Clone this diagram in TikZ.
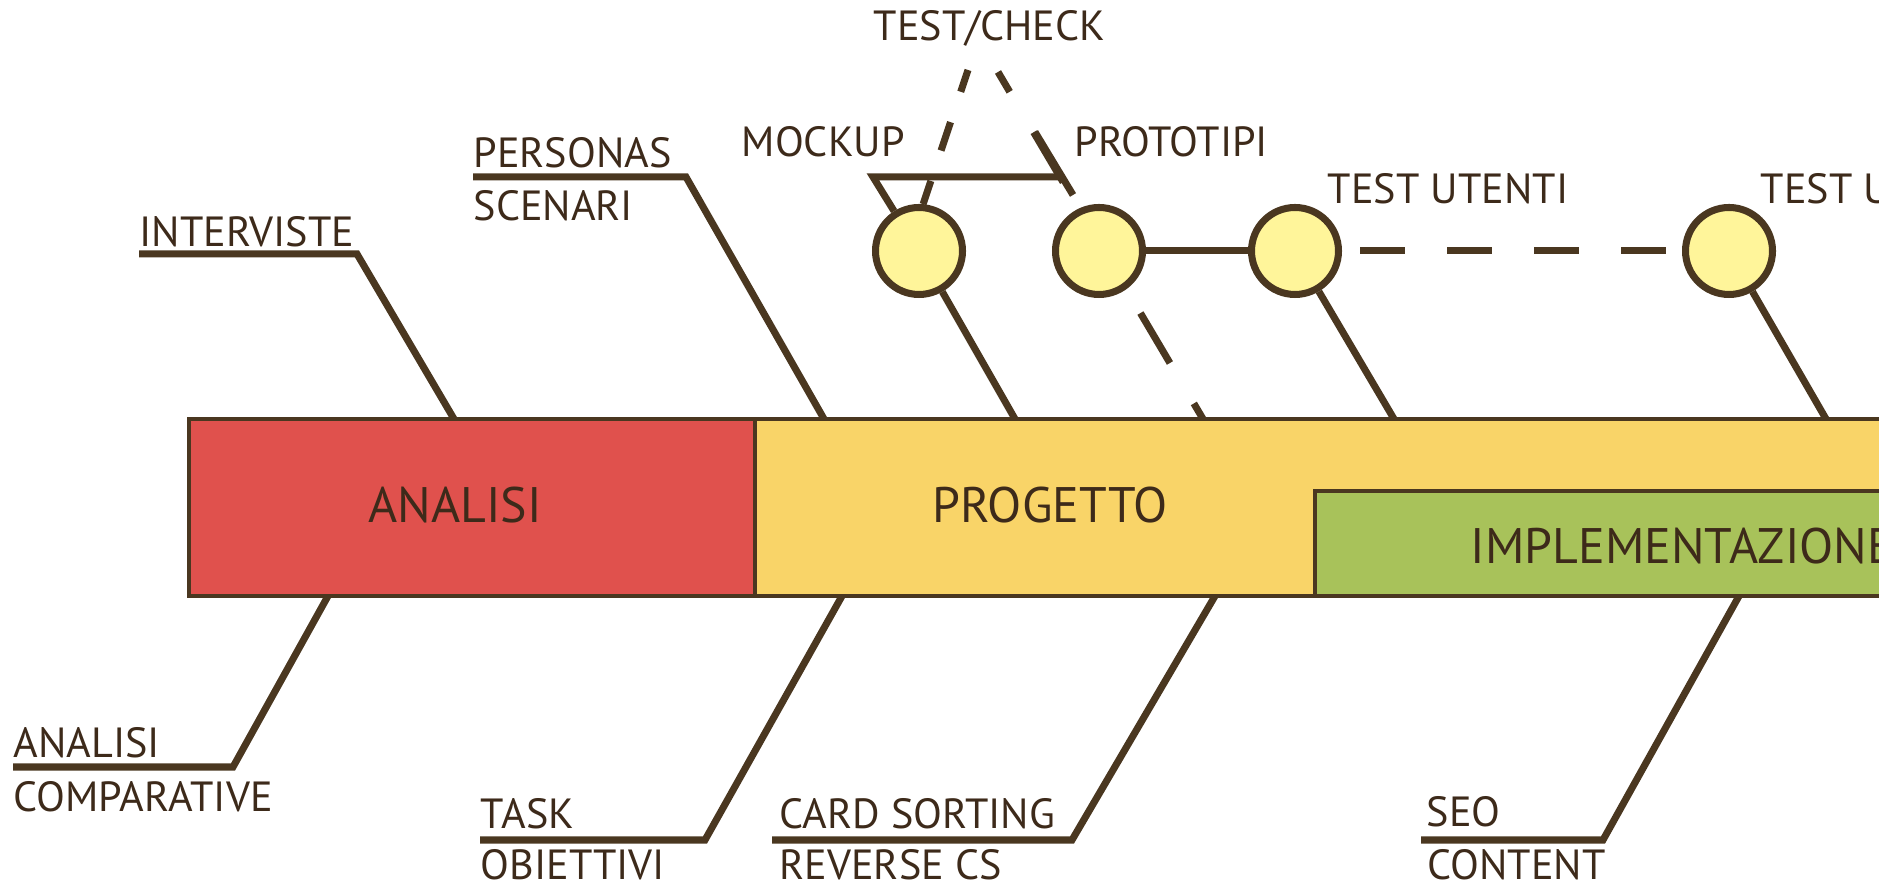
\documentclass[tikz,border=0pt]{standalone}
\usepackage{fontspec}
\setmainfont{PT Sans}
\usepackage{xcolor}
\definecolor{analisired}{HTML}{E0514D}
\definecolor{progettoyellow}{HTML}{F9D468}
\definecolor{implgreen}{HTML}{A8C25A}
\definecolor{stepyellow}{HTML}{FFF59A}
\definecolor{linebrown}{HTML}{4A3720}
\definecolor{textbrown}{HTML}{3D2A1A}
\usepackage{tikz}

\tikzset{
    phase/.style={draw=linebrown, line width=1pt},
    phasetext/.style={inner sep=0pt, anchor=base, text=textbrown, font=\fontsize{14.2}{17}\selectfont},
    lbl/.style={inner sep=0pt, anchor=base west, text=textbrown, font=\fontsize{12}{14}\selectfont},
    leader/.style={draw=linebrown, line width=2pt},
    milestone/.style={circle, draw=linebrown, fill=stepyellow, line width=2pt, minimum size=0.87cm, inner sep=0pt},
}

\begin{document}
\begin{tikzpicture}
                        \clip (0, 0) rectangle (18.79, 8.84);

                        % fasi
                        \draw[phase, fill=analisired] (1.89, 2.88) rectangle (7.55, 4.65);
                        \draw[phase, fill=progettoyellow] (7.55, 2.88) rectangle (19.5, 4.65);
                        \draw[phase, fill=implgreen] (13.15, 2.88) rectangle (19.5, 3.93);

                        \node (analisi) at (4.55, 3.61) [phasetext] {ANALISI};
                        \node (progetto) at (10.50, 3.61) [phasetext] {PROGETTO};
                        \node (implementazione) at (14.70, 3.20) [phasetext, anchor=base west] {IMPLEMENTAZIONE};

                        % punti sulla barra
                        \coordinate (binterviste) at (4.54, 4.65);
                        \coordinate (bpersonas) at (8.24, 4.65);
                        \coordinate (bmockup) at (10.15, 4.65);
                        \coordinate (bprototipi) at (12.03, 4.65);
                        \coordinate (butenti) at (13.94, 4.65);
                        \coordinate (butenti2) at (18.26, 4.65);
                        \coordinate (bcomparative) at (3.28, 2.88);
                        \coordinate (btask) at (8.42, 2.88);
                        \coordinate (bcard) at (12.15, 2.88);
                        \coordinate (bseo) at (17.39, 2.88);

                        % test/check
                        \coordinate (tleft) at (9.68, 8.14);
                        \coordinate (tright) at (9.98, 8.12);
                        \draw[leader, dash pattern=on 0.58cm off 0.47cm, dash phase=0.35cm] (tright) -- (bprototipi);

                        \node (c1) at (9.19, 6.33) [milestone] {};
                        \node (c2) at (10.99, 6.33) [milestone] {};
                        \node (c3) at (12.95, 6.33) [milestone] {};
                        \node (c4) at (17.29, 6.33) [milestone] {};

                        \draw[leader, dash pattern=on 0.30cm off 0.32cm, dash phase=0.07cm] (tleft) -- (c1.85);

                        \coordinate (kmockup) at (8.73, 7.07);
                        \coordinate (emockup) at (10.60, 7.07);
                        \coordinate (sprototipi) at (10.35, 7.52);
                        \coordinate (eprototipi) at (10.73, 6.89);
                        \draw[leader] (c1.122) -- (kmockup) -- (emockup);
                        \draw[leader] (sprototipi) -- (eprototipi);

                        \draw[leader] (c1) -- (bmockup);
                        \draw[leader] (c2) -- (c3);
                        \draw[leader, dash pattern=on 0.45cm off 0.42cm, dash phase=0.69cm] (c3) -- (c4);
                        \draw[leader] (c3) -- (butenti);
                        \draw[leader] (c4) -- (butenti2);

                        % etichette
                        \node (testcheck) at (8.73, 8.43) [lbl] {TEST/CHECK};
                        \node (mockup) at (7.41, 7.27) [lbl] {MOCKUP};
                        \node (prototipi) at (10.74, 7.27) [lbl] {PROTOTIPI};
                        \node (utenti) at (13.27, 6.80) [lbl] {TEST UTENTI};
                        \node (utenti2) at (17.60, 6.80) [lbl] {TEST UTENTI};
                        \node (personas) at (4.73, 7.16) [lbl] {PERSONAS};
                        \node (scenari) at (4.73, 6.63) [lbl] {SCENARI};
                        \node (interviste) at (1.39, 6.37) [lbl] {INTERVISTE};
                        \node (analisicomp) at (0.13, 1.26) [lbl] {ANALISI};
                        \node (comparative) at (0.13, 0.72) [lbl] {COMPARATIVE};
                        \node (task) at (4.80, 0.55) [lbl] {TASK};
                        \node (obiettivi) at (4.80, 0.04) [lbl] {OBIETTIVI};
                        \node (card) at (7.79, 0.55) [lbl] {CARD SORTING};
                        \node (reverse) at (7.79, 0.04) [lbl] {REVERSE CS};
                        \node (seo) at (14.26, 0.57) [lbl] {SEO};
                        \node (content) at (14.27, 0.04) [lbl] {CONTENT};

                        \coordinate (kinterviste) at (3.57, 6.30);
                        \coordinate (kpersonas) at (6.86, 7.07);
                        \coordinate (kcomparative) at (2.33, 1.17);
                        \coordinate (ktask) at (7.05, 0.44);
                        \coordinate (kcard) at (10.72, 0.44);
                        \coordinate (kseo) at (16.03, 0.44);

                        \draw[leader] (interviste.base west |- kinterviste) -- (kinterviste) -- (binterviste);
                        \draw[leader] (personas.base west |- kpersonas) -- (kpersonas) -- (bpersonas);
                        \draw[leader] (analisicomp.base west |- kcomparative) -- (kcomparative) -- (bcomparative);
                        \draw[leader] (task.base west |- ktask) -- (ktask) -- (btask);
                        \draw[leader] ([xshift=-0.07cm]card.base west |- kcard) -- (kcard) -- (bcard);
                        \draw[leader] ([xshift=-0.05cm]seo.base west |- kseo) -- (kseo) -- (bseo);
                    \end{tikzpicture}
\end{document}
